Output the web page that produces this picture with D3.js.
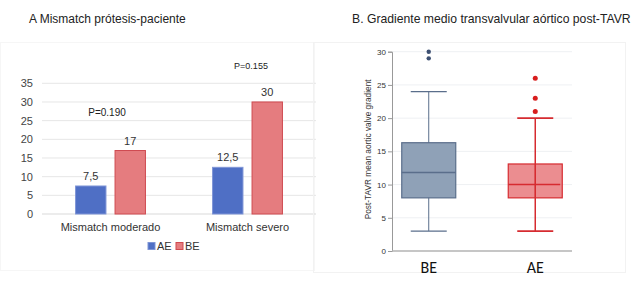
<!DOCTYPE html>
<html>
<head>
<meta charset="utf-8">
<script src="https://cdn.jsdelivr.net/npm/d3@7"></script>
<style>
  body { margin: 0; background: #fff; }
  svg { font-family: "Liberation Sans", Arial, sans-serif; }
</style>
</head>
<body>
<div id="chart"></div>
<script>
// panel A data
const categories = ["Mismatch moderado", "Mismatch severo"];
const groups = ["AE", "BE"];
const aeValues = [7.5, 12.5];
const beValues = [17, 30];
const pValues = ["P=0.190", "P=0.155"];
const yTicksA = [0, 5, 10, 15, 20, 25, 30, 35];

// panel B data (box plot summary)
const boxGroups = ["BE", "AE"];
const boxQ1 = [8, 8];
const boxMedian = [11.8, 10];
const boxQ3 = [16.3, 13.1];
const boxLow = [3, 3];
const boxHigh = [24, 20];
const boxOutliers = [[29, 30], [21, 23, 26]];
const yTicksB = [0, 5, 10, 15, 20, 25, 30];

const width = 641, height = 287;
const svg = d3.select("#chart").append("svg")
    .attr("width", width)
    .attr("height", height);

// ---------- Panel A ----------
const colA = { AE: "#4f6fc5", BE: "#e57c7f" };
const strokeA = { AE: "#7f95d6", BE: "#cf4a50" };

svg.append("rect")
    .attr("x", 0.5).attr("y", 42.5).attr("width", 314).attr("height", 228)
    .attr("fill", "none").attr("stroke", "#f6f6f6");

svg.append("text")
    .attr("x", 29).attr("y", 23)
    .attr("font-size", 12).attr("fill", "#222")
    .text("A Mismatch prótesis-paciente");

let yA = d3.scaleLinear().domain([0, 35]).range([214, 83.3]);
let x0 = d3.scaleBand().domain(categories).range([42, 316]);
let x1 = d3.scaleBand().domain(groups).range([0, x0.bandwidth()])
    .paddingInner(0.23).paddingOuter(0.85);

// gridlines
svg.append("g").selectAll("line")
    .data(yTicksA)
    .enter().append("line")
    .attr("x1", 42).attr("x2", 316)
    .attr("y1", d => yA(d)).attr("y2", d => yA(d))
    .attr("stroke", d => d === 0 ? "#d9d9d9" : "#e6e6e6")
    .attr("stroke-width", 1);

svg.append("g")
    .attr("transform", "translate(33,0)")
    .call(d3.axisLeft(yA).tickValues(yTicksA).tickSize(0).tickPadding(0))
    .call(g => g.select(".domain").remove())
    .selectAll("text")
    .attr("font-size", 11).attr("fill", "#444")
    .attr("font-family", "Liberation Sans, Arial, sans-serif");

const barData = [];
categories.forEach((c, i) => {
    barData.push({ cat: c, grp: "AE", v: aeValues[i] });
    barData.push({ cat: c, grp: "BE", v: beValues[i] });
});

svg.append("g").selectAll("rect")
    .data(barData)
    .enter().append("rect")
    .attr("x", d => x0(d.cat) + x1(d.grp))
    .attr("y", d => yA(d.v))
    .attr("width", x1.bandwidth())
    .attr("height", d => yA(0) - yA(d.v))
    .attr("fill", d => colA[d.grp])
    .attr("stroke", d => strokeA[d.grp])
    .attr("stroke-width", 1);

svg.append("g").selectAll("text")
    .data(barData)
    .enter().append("text")
    .attr("x", d => x0(d.cat) + x1(d.grp) + x1.bandwidth() / 2)
    .attr("y", d => yA(d.v) - 6)
    .attr("text-anchor", "middle")
    .attr("font-size", 11).attr("fill", "#333")
    .text(d => String(d.v).replace(".", ","));

// category labels
svg.append("g").selectAll("text")
    .data(categories)
    .enter().append("text")
    .attr("x", d => x0(d) + x0.bandwidth() / 2)
    .attr("y", 231)
    .attr("text-anchor", "middle")
    .attr("font-size", 11).attr("fill", "#333")
    .text(d => d);

// p values
svg.append("text").attr("x", 107).attr("y", 116)
    .attr("text-anchor", "middle").attr("font-size", 10).attr("fill", "#222")
    .text(pValues[0]);
svg.append("text").attr("x", 251).attr("y", 69)
    .attr("text-anchor", "middle").attr("font-size", 9).attr("fill", "#222")
    .text(pValues[1]);

// legend
const legend = svg.append("g").attr("transform", "translate(148,246)");
groups.forEach((g, i) => {
    let lg = legend.append("g").attr("transform", `translate(${i * 28},0)`);
    lg.append("rect").attr("x", 0).attr("y", -3.5).attr("width", 7).attr("height", 7)
        .attr("fill", colA[g]).attr("stroke", strokeA[g]);
    lg.append("text").attr("x", 9).attr("y", 4)
        .attr("font-size", 11).attr("fill", "#333").text(g);
});

// ---------- Panel B ----------
const fillB = { BE: "#8fa1b7", AE: "#e8797d" };
const strokeB = { BE: "#5a6e8b", AE: "#d62b30" };
const dotB = { BE: "#3d5072", AE: "#d81e1e" };

svg.append("rect")
    .attr("x", 313.5).attr("y", 42.5).attr("width", 312).attr("height", 230)
    .attr("fill", "none").attr("stroke", "#f2f2f2");

svg.append("text")
    .attr("x", 352).attr("y", 23)
    .attr("font-size", 12.2).attr("fill", "#222")
    .text("B. Gradiente medio transvalvular aórtico post-TAVR");

let yB = d3.scaleLinear().domain([0, 30]).range([251, 51.7]);
let xB = d3.scalePoint().domain(boxGroups).range([392, 572]).padding(0.345);

svg.append("g").selectAll("line")
    .data(yTicksB.filter(d => d > 0))
    .enter().append("line")
    .attr("x1", 392).attr("x2", 572)
    .attr("y1", d => yB(d)).attr("y2", d => yB(d))
    .attr("stroke", "#eef0f3");

svg.append("g")
    .attr("transform", "translate(392,0)")
    .call(d3.axisLeft(yB).tickValues(yTicksB).tickSize(4).tickPadding(2))
    .call(g => g.select(".domain").attr("stroke", "#999"))
    .call(g => g.selectAll(".tick line").attr("stroke", "#999"))
    .selectAll("text")
    .attr("font-size", 8).attr("fill", "#333")
    .attr("font-family", "Liberation Sans, Arial, sans-serif");

svg.append("line")
    .attr("x1", 392).attr("x2", 572).attr("y1", yB(0)).attr("y2", yB(0))
    .attr("stroke", "#b3b3b3").attr("stroke-width", 1.5);

svg.append("text")
    .attr("transform", `translate(371,${(yB(0) + yB(30)) / 2 - 2}) rotate(-90)`)
    .attr("text-anchor", "middle")
    .attr("font-size", 8.3).attr("fill", "#333")
    .text("Post-TAVR mean aortic valve gradient");

const boxW = 54, capW = 36;
boxGroups.forEach((g, i) => {
    let cx = xB(g);
    let gg = svg.append("g");
    gg.append("line")
        .attr("x1", cx).attr("x2", cx)
        .attr("y1", yB(boxLow[i])).attr("y2", yB(boxHigh[i]))
        .attr("stroke", strokeB[g]).attr("stroke-width", g === "AE" ? 1.5 : 1);
    gg.append("rect")
        .attr("x", cx - boxW / 2).attr("y", yB(boxQ3[i]))
        .attr("width", boxW).attr("height", yB(boxQ1[i]) - yB(boxQ3[i]))
        .attr("fill", fillB[g]).attr("fill-opacity", g === "AE" ? 0.85 : 1)
        .attr("stroke", strokeB[g]).attr("stroke-width", 1.2);
    if (g === "AE") {
        gg.append("line")
            .attr("x1", cx).attr("x2", cx)
            .attr("y1", yB(boxQ1[i])).attr("y2", yB(boxQ3[i]))
            .attr("stroke", strokeB[g]).attr("stroke-width", 1.5);
    }
    gg.append("line")
        .attr("x1", cx - boxW / 2).attr("x2", cx + boxW / 2 - (g === "AE" ? 2 : 0))
        .attr("y1", yB(boxMedian[i])).attr("y2", yB(boxMedian[i]))
        .attr("stroke", strokeB[g]).attr("stroke-width", 1.5);
    [boxLow[i], boxHigh[i]].forEach(v => {
        gg.append("line")
            .attr("x1", cx - capW / 2).attr("x2", cx + capW / 2)
            .attr("y1", yB(v)).attr("y2", yB(v))
            .attr("stroke", strokeB[g]).attr("stroke-width", g === "AE" ? 1.8 : 1.2);
    });
    gg.selectAll("circle")
        .data(boxOutliers[i])
        .enter().append("circle")
        .attr("cx", cx).attr("cy", d => yB(d))
        .attr("r", g === "AE" ? 2.5 : 2.2)
        .attr("fill", dotB[g]);
    gg.append("text")
        .attr("x", cx).attr("y", 273)
        .attr("text-anchor", "middle")
        .attr("font-size", 16).attr("fill", "#111")
        .attr("font-family", "Carlito, 'Open Sans', sans-serif")
        .text(g);
});
</script>
</body>
</html>
